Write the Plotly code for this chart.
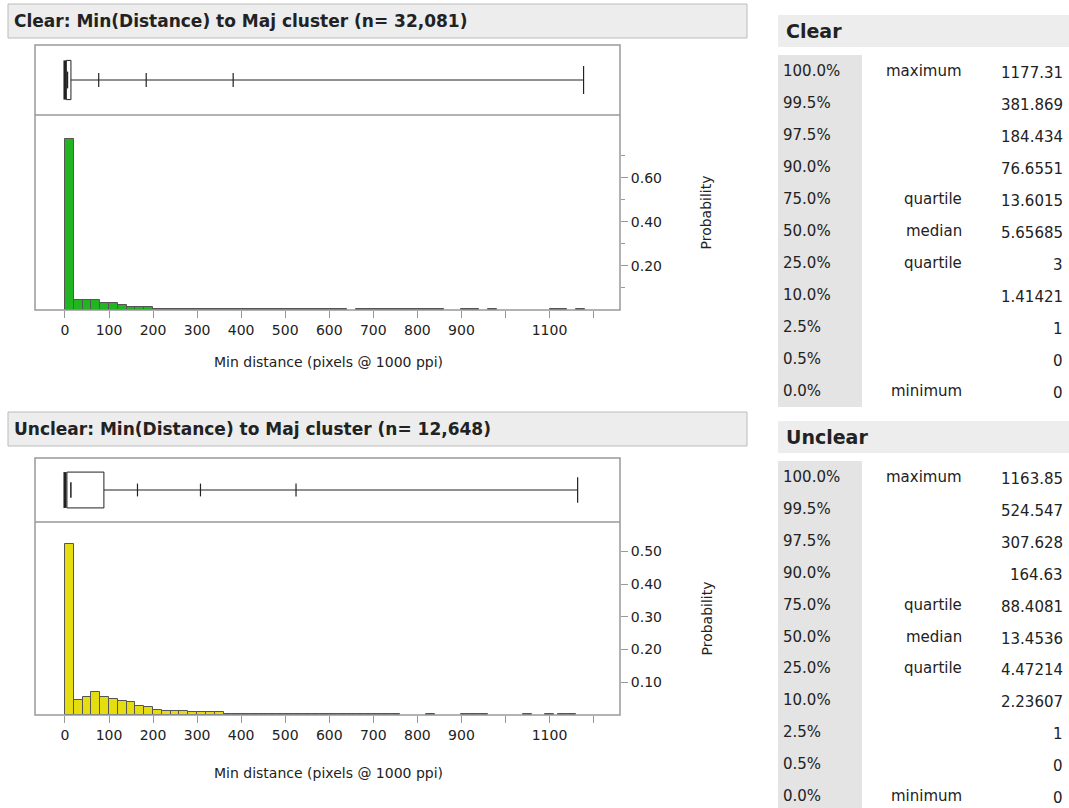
import plotly.graph_objects as go

W, H = 1069, 808
BIN = 20

clear_bins = [0, 20, 40, 60, 80, 100, 120, 140, 160, 180,
              200, 220, 240, 260, 280, 300, 320, 340, 360, 380, 400, 420, 440, 460, 480, 500,
              520, 540, 560, 580, 600, 620,
              660, 680, 700, 720, 740, 760, 780, 800, 820, 840,
              900, 920, 960, 1100, 1120, 1160]
clear_prob = [0.777, 0.046, 0.046, 0.046, 0.030, 0.030, 0.023, 0.015, 0.015, 0.015,
              0.004, 0.004, 0.004, 0.004, 0.004, 0.004, 0.004, 0.004, 0.004, 0.004, 0.004, 0.004, 0.004, 0.004, 0.004, 0.004,
              0.004, 0.004, 0.004, 0.004, 0.004, 0.004,
              0.004, 0.004, 0.004, 0.004, 0.004, 0.004, 0.004, 0.004, 0.004, 0.004,
              0.004, 0.004, 0.004, 0.004, 0.004, 0.004]
unclear_bins = [0, 20, 40, 60, 80, 100, 120, 140, 160, 180, 200, 220, 240, 260, 280, 300, 320, 340,
                360, 380, 400, 420, 440, 460, 480, 500, 520, 540, 560, 580, 600, 620, 640, 660, 680, 700, 720, 740,
                820, 900, 920, 940, 1040, 1090, 1120, 1140]
unclear_prob = [0.523, 0.046, 0.055, 0.070, 0.055, 0.049, 0.044, 0.039, 0.029, 0.023, 0.016, 0.012, 0.012, 0.012, 0.008, 0.008, 0.008, 0.008,
                0.004, 0.004, 0.004, 0.004, 0.004, 0.004, 0.004, 0.004, 0.004, 0.004, 0.004, 0.004, 0.004, 0.004, 0.004, 0.004, 0.004, 0.004, 0.004, 0.004,
                0.004, 0.004, 0.004, 0.004, 0.004, 0.004, 0.004, 0.004]

pct_labels = ["100.0%", "99.5%", "97.5%", "90.0%", "75.0%", "50.0%", "25.0%", "10.0%", "2.5%", "0.5%", "0.0%"]
q_names = ["maximum", "", "", "", "quartile", "median", "quartile", "", "", "", "minimum"]
clear_q = [1177.31, 381.869, 184.434, 76.6551, 13.6015, 5.65685, 3, 1.41421, 1, 0, 0]
clear_q_txt = ["1177.31", "381.869", "184.434", "76.6551", "13.6015", "5.65685", "3", "1.41421", "1", "0", "0"]
unclear_q = [1163.85, 524.547, 307.628, 164.63, 88.4081, 13.4536, 4.47214, 2.23607, 1, 0, 0]
unclear_q_txt = ["1163.85", "524.547", "307.628", "164.63", "88.4081", "13.4536", "4.47214", "2.23607", "1", "0", "0"]

xticks = [0, 100, 200, 300, 400, 500, 600, 700, 800, 900, 1000, 1100, 1200]
xtick_text = ["0", "100", "200", "300", "400", "500", "600", "700", "800", "900", "", "1100", ""]

FONT = "DejaVu Sans"
fig = go.Figure()

def px(x): return x / W
def py(y): return 1 - y / H

shapes, annos = [], []

def txt(x, y, s, xa="left", size=14, angle=0):
    annos.append(dict(xref="paper", yref="paper", x=px(x), y=py(y), text=s, showarrow=False, xanchor=xa,
                      yanchor="middle", textangle=angle, font=dict(family=FONT, size=size, color="#222")))

def panel(idx, title, y_title, y_box0, y_box1, y_hist1, ymax, yticks, ytick_txt, minor, bins, probs, color, q, xtitle_y):
    a_box = 2*idx + 1
    a_hist = 2*idx + 2
    dom_x = [px(35), px(620)]
    lay = {}
    lay["xaxis%d" % a_box] = dict(domain=dom_x, range=[-68, 1260], anchor="y%d" % a_box, showticklabels=False,
                                  showgrid=False, zeroline=False, ticks="", showline=False)
    lay["yaxis%d" % a_box] = dict(domain=[py(y_box1), py(y_box0)], range=[0, 1], anchor="x%d" % a_box,
                                  showticklabels=False, showgrid=False, zeroline=False)
    lay["xaxis%d" % a_hist] = dict(domain=dom_x, range=[-68, 1260], anchor="y%d" % a_hist, tickvals=xticks,
                                   ticktext=xtick_text, ticks="outside", ticklen=7, tickcolor="#999",
                                   showgrid=False, zeroline=False, showline=False,
                                   tickfont=dict(family=FONT, size=14, color="#222"))
    lay["yaxis%d" % a_hist] = dict(domain=[py(y_hist1), py(y_box1)], range=[0, ymax], anchor="x%d" % a_hist,
                                   side="right", tickvals=yticks, ticktext=ytick_txt, ticks="outside", ticklen=7,
                                   tickcolor="#999", showgrid=False, zeroline=False, showline=False,
                                   tickfont=dict(family=FONT, size=14, color="#222"),
                                   minor=dict(tickvals=minor, ticks="outside", ticklen=4, tickcolor="#999"))
    fig.update_layout(**lay)
    xs = "x%d" % a_box if a_box > 1 else "x"
    ys = "y%d" % a_box if a_box > 1 else "y"
    xh, yh = "x%d" % a_hist, "y%d" % a_hist
    fig.add_trace(go.Bar(x=[b + BIN/2 for b in bins], y=probs, width=BIN, marker=dict(color=color, line=dict(color="#555", width=1)),
                         xaxis=xh, yaxis=yh, showlegend=False))
    qmax, q995, q975, q90, q75, q50, q25 = q[0], q[1], q[2], q[3], q[4], q[5], q[6]
    q0 = q[10]
    bl = "#222"
    fig.add_trace(go.Scatter(x=[q75, qmax], y=[0.5, 0.5], mode="lines", line=dict(color=bl, width=1), xaxis=xs, yaxis=ys))
    fig.add_trace(go.Scatter(x=[q25, q25, q75, q75, q25], y=[0.22, 0.78, 0.78, 0.22, 0.22], mode="lines", line=dict(color=bl, width=1), xaxis=xs, yaxis=ys))
    fig.add_trace(go.Scatter(x=[q50, q50], y=[0.38, 0.62], mode="lines", line=dict(color=bl, width=1.5), xaxis=xs, yaxis=ys))
    fig.add_trace(go.Scatter(x=[q0, q0], y=[0.22, 0.78], mode="lines", line=dict(color=bl, width=3), xaxis=xs, yaxis=ys))
    for v in [q90, q975, q995, qmax]:
        fig.add_trace(go.Scatter(x=[v, v], y=[0.4, 0.6] if v != qmax else [0.3, 0.7], mode="lines", line=dict(color=bl, width=1.2), xaxis=xs, yaxis=ys))
    shapes.append(dict(type="rect", xref="paper", yref="paper", x0=px(8), x1=px(747), y0=py(y_title+34), y1=py(y_title),
                       fillcolor="#ededed", line=dict(color="#bbb", width=1), layer="below"))
    shapes.append(dict(type="rect", xref="paper", yref="paper", x0=px(35), x1=px(620), y0=py(y_hist1), y1=py(y_box0),
                       line=dict(color="#999", width=1.5)))
    shapes.append(dict(type="line", xref="paper", yref="paper", x0=px(35), x1=px(620), y0=py(y_box1), y1=py(y_box1),
                       line=dict(color="#999", width=1.5)))
    txt(12, y_title+17, "<b>" + title + "</b>", size=17)
    txt(706, (y_box1 + y_hist1)/2, "Probability", xa="center", angle=-90, size=14)
    txt(328, xtitle_y, "Min distance (pixels @ 1000 ppi)", xa="center", size=14)

def table(name, y_head, row0, step, qtxt):
    shapes.append(dict(type="rect", xref="paper", yref="paper", x0=px(778), x1=px(1069), y0=py(y_head+32), y1=py(y_head),
                       fillcolor="#ededed", line=dict(width=0), layer="below"))
    shapes.append(dict(type="rect", xref="paper", yref="paper", x0=px(778), x1=px(862), y0=py(row0 + step*10.5), y1=py(row0 - step*0.5),
                       fillcolor="#e4e4e4", line=dict(width=0), layer="below"))
    txt(784, y_head+16, "<b>" + name + "</b>", size=19)
    for i in range(11):
        yy = row0 + step*i
        txt(781, yy, pct_labels[i], size=15)
        if q_names[i]:
            txt(964, yy, q_names[i], xa="right", size=15)
        txt(1065, yy + 2, qtxt[i], xa="right", size=15)

panel(0, "Clear: Min(Distance) to Maj cluster (n= 32,081)", 4, 45, 115, 310, 0.886,
      [0.2, 0.4, 0.6], ["0.20", "0.40", "0.60"], [0.1, 0.3, 0.5, 0.7], clear_bins, clear_prob, "#22b522", clear_q, 362)
panel(1, "Unclear: Min(Distance) to Maj cluster (n= 12,648)", 412, 458, 522, 715, 0.59,
      [0.1, 0.2, 0.3, 0.4, 0.5], ["0.10", "0.20", "0.30", "0.40", "0.50"], [], unclear_bins, unclear_prob, "#e5dd10", unclear_q, 773)
table("Clear", 15, 71, 32.0, clear_q_txt)
table("Unclear", 421, 477, 31.9, unclear_q_txt)

fig.update_layout(width=W, height=H, margin=dict(l=0, r=0, t=0, b=0), plot_bgcolor="white", paper_bgcolor="white",
                  shapes=shapes, annotations=annos, bargap=0, showlegend=False)
fig.write_html("out.html", config={"displayModeBar": False},
               post_script="document.body.style.margin='0';document.body.style.overflow='hidden';")
